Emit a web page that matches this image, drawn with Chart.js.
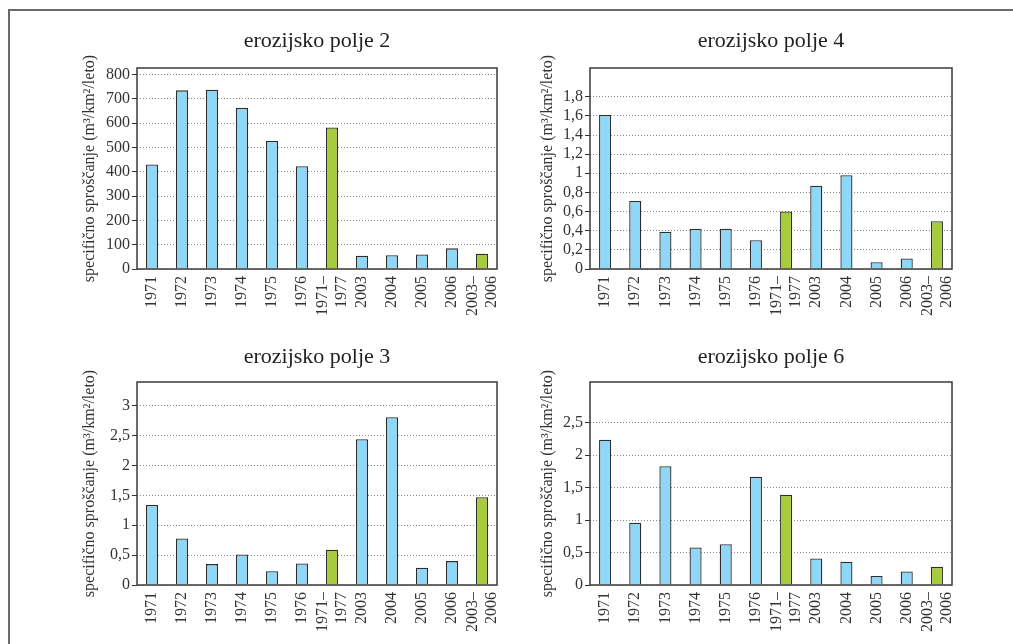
<!DOCTYPE html>
<html>
<head>
<meta charset="utf-8">
<script src="https://cdn.jsdelivr.net/npm/chart.js@4"></script>
<style>
  html, body { margin: 0; padding: 0; background: #fff; }
  body { width: 1013px; height: 644px; position: relative; overflow: hidden; }
  .frame { position: absolute; left: 8px; top: 9px; width: 1010px; height: 640px;
           border-top: 2px solid #6a6a6a; border-left: 2px solid #6a6a6a; }
  .box { position: absolute; }
</style>
</head>
<body>
<div class="frame"></div>
<div class="box" style="left:70px;top:16px;width:450px;height:310px;"><canvas id="c1"></canvas></div>
<div class="box" style="left:523px;top:16px;width:450px;height:310px;"><canvas id="c2"></canvas></div>
<div class="box" style="left:70px;top:330px;width:450px;height:310px;"><canvas id="c3"></canvas></div>
<div class="box" style="left:523px;top:330px;width:450px;height:310px;"><canvas id="c4"></canvas></div>
<script>
// ---- data ----
const categories = ['1971', '1972', '1973', '1974', '1975', '1976', ['1971–', '1977'],
                    '2003', '2004', '2005', '2006', ['2003–', '2006']];
const titles = ['erozijsko polje 2', 'erozijsko polje 4', 'erozijsko polje 3', 'erozijsko polje 6'];
const yTitle = 'specifično sproščanje (m³/km²/leto)';

const polje2 = [430, 735, 737, 663, 527, 423, 582, 55, 57, 60, 85, 63];
const polje4 = [1.61, 0.71, 0.39, 0.42, 0.42, 0.30, 0.60, 0.87, 0.98, 0.07, 0.11, 0.50];
const polje3 = [1.34, 0.78, 0.35, 0.51, 0.23, 0.36, 0.59, 2.44, 2.81, 0.29, 0.40, 1.47];
const polje6 = [2.24, 0.96, 1.83, 0.58, 0.63, 1.67, 1.39, 0.41, 0.36, 0.14, 0.21, 0.28];

// axis ranges and tick labels
const yMax2 = 827, yStep2 = 100, yTickTop2 = 800;
const yMax4 = 2.1, yStep4 = 0.2, yTickTop4 = 1.8;
const yMax3 = 3.4, yStep3 = 0.5, yTickTop3 = 3;
const yMax6 = 3.13, yStep6 = 0.5, yTickTop6 = 2.5;

// ---- style ----
const FONT = "'Liberation Serif', 'DejaVu Serif', serif";
const BLUE = '#8ed7f7';
const GREEN = '#a6cb3b';

const boxPlugin = {
  id: 'plotBox',
  beforeDraw(chart) {
    // centre multi-line rotated category labels on their tick
    const s = chart.scales.x;
    const items = s.getLabelItems(chart.chartArea);
    items.forEach(it => {
      if (Array.isArray(it.label) && !it._centred) {
        it.textOffset -= (it.label.length - 1) * it.font.lineHeight / 2;
        it._centred = true;
      }
    });
  },
  afterDatasetsDraw(chart) {
    const a = chart.chartArea;
    const ctx = chart.ctx;
    ctx.save();
    ctx.strokeStyle = '#3a3a3a';
    ctx.lineWidth = 1.5;
    ctx.strokeRect(a.left, a.top, a.right - a.left, a.bottom - a.top);
    ctx.restore();
  }
};

function makeChart(id, title, values, yMax, yStep, yTickTop, opts) {
  const colors = categories.map(c => Array.isArray(c) ? GREEN : BLUE);
  new Chart(document.getElementById(id), {
    type: 'bar',
    data: {
      labels: categories,
      datasets: [{
        data: values,
        backgroundColor: colors,
        borderColor: '#2e2e2e',
        borderWidth: 1.3,
        barPercentage: 0.4,
        categoryPercentage: 1.0
      }]
    },
    options: {
      responsive: true,
      maintainAspectRatio: false,
      animation: false,
      layout: { padding: { left: 0, right: opts.padRight, top: 0, bottom: 0 } },
      plugins: {
        legend: { display: false },
        tooltip: { enabled: false },
        title: {
          display: true,
          text: title,
          fullSize: false,
          color: '#222',
          font: { family: FONT, size: 22, weight: 'normal', lineHeight: 1.2 },
          padding: { top: opts.titleTop, bottom: opts.titleBottom }
        }
      },
      scales: {
        x: {
          grid: { display: false, drawTicks: false },
          border: { display: false },
          ticks: {
            color: '#333',
            font: { family: FONT, size: 16, lineHeight: 1.2 },
            minRotation: 90, maxRotation: 90,
            padding: 7,
            autoSkip: false
          },
          afterFit(scale) {
            scale.height = opts.xHeight;
            scale.paddingLeft = 0;
            scale.paddingRight = 0;
          }
        },
        y: {
          min: 0,
          max: yMax,
          afterBuildTicks(axis) {
            const t = [];
            const n = Math.round(yTickTop / yStep);
            for (let i = 0; i <= n; i++) t.push({ value: Number((i * yStep).toFixed(4)) });
            axis.ticks = t;
          },
          ticks: {
            stepSize: yStep,
            color: '#333',
            padding: 2,
            font: { family: FONT, size: 16 },
            callback: v => String(Number(v.toFixed(2))).replace('.', ',')
          },
          grid: {
            color: '#8a8a8a',
            lineWidth: 1,
            tickColor: '#333',
            tickLength: 5,
            tickWidth: 1,
            tickBorderDash: []
          },
          border: { display: false, dash: [1, 2] },
          title: {
            display: true,
            text: yTitle,
            color: '#333',
            font: { family: FONT, size: 16, lineHeight: 1.2 },
            padding: { top: opts.yTitlePad, bottom: 0 }
          },
          afterFit(scale) {
            scale.width = 67;
            scale.paddingTop = 0;
            scale.paddingBottom = 0;
          }
        }
      }
    },
    plugins: [boxPlugin]
  });
}

makeChart('c1', titles[0], polje2, yMax2, yStep2, yTickTop2,
  { padRight: 23, titleTop: 12, titleBottom: 13.6, xHeight: 57, yTitlePad: 10.4 });
makeChart('c2', titles[1], polje4, yMax4, yStep4, yTickTop4,
  { padRight: 21, titleTop: 12, titleBottom: 13.6, xHeight: 57, yTitlePad: 15.4 });
makeChart('c3', titles[2], polje3, yMax3, yStep3, yTickTop3,
  { padRight: 23, titleTop: 14, titleBottom: 11.6, xHeight: 55, yTitlePad: 10.4 });
makeChart('c4', titles[3], polje6, yMax6, yStep6, yTickTop6,
  { padRight: 21, titleTop: 14, titleBottom: 11.6, xHeight: 55, yTitlePad: 15.4 });
</script>
</body>
</html>
